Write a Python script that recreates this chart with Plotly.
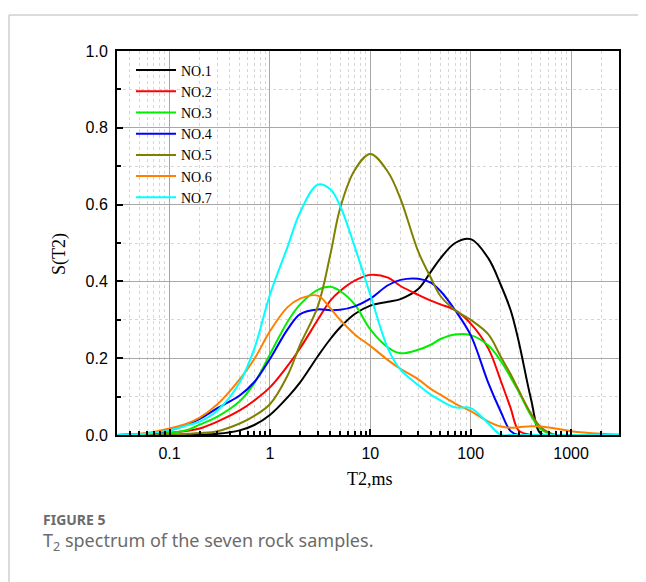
import plotly.graph_objects as go
import math

# T2 relaxation time grid (ms)
t2 = [0.03, 0.05, 0.07, 0.1, 0.15, 0.2, 0.3, 0.5, 0.7, 1, 1.5, 2, 3, 4, 5, 7, 10,
      15, 20, 30, 40, 50, 70, 100, 150, 200, 250, 300, 400, 500, 700, 1000, 2000, 3000]

no1 = [0, 0, 0, 0, 0, 0.001, 0.003, 0.012, 0.026, 0.052, 0.098, 0.137, 0.205, 0.25, 0.28, 0.315, 0.337,
       0.347, 0.354, 0.38, 0.425, 0.46, 0.5, 0.51, 0.46, 0.39, 0.325, 0.245, 0.092, 0.003, 0, 0, 0, 0]
no2 = [0, 0.001, 0.003, 0.006, 0.011, 0.017, 0.035, 0.064, 0.09, 0.124, 0.18, 0.226, 0.3, 0.35, 0.375, 0.402, 0.417,
       0.41, 0.388, 0.365, 0.35, 0.34, 0.325, 0.29, 0.225, 0.14, 0.07, 0.012, 0, 0, 0, 0, 0, 0]
no3 = [0, 0.001, 0.002, 0.005, 0.013, 0.027, 0.048, 0.088, 0.135, 0.21, 0.295, 0.34, 0.378, 0.386, 0.375, 0.34, 0.275,
       0.228, 0.213, 0.222, 0.235, 0.25, 0.262, 0.26, 0.233, 0.192, 0.15, 0.113, 0.05, 0.015, 0, 0, 0, 0]
no4 = [0, 0.002, 0.005, 0.012, 0.027, 0.042, 0.07, 0.103, 0.138, 0.198, 0.275, 0.315, 0.327, 0.325, 0.326, 0.335, 0.355,
       0.39, 0.404, 0.407, 0.397, 0.375, 0.325, 0.26, 0.135, 0.06, 0.01, 0, 0, 0, 0, 0, 0, 0]
no5 = [0, 0, 0, 0.001, 0.003, 0.005, 0.01, 0.03, 0.05, 0.08, 0.155, 0.235, 0.335, 0.47, 0.59, 0.69, 0.732,
       0.685, 0.615, 0.478, 0.41, 0.362, 0.325, 0.3, 0.262, 0.203, 0.158, 0.117, 0.055, 0.02, 0, 0, 0, 0]
no6 = [0, 0.003, 0.008, 0.017, 0.03, 0.045, 0.08, 0.145, 0.198, 0.27, 0.333, 0.355, 0.363, 0.33, 0.3, 0.262, 0.232,
       0.195, 0.172, 0.145, 0.12, 0.105, 0.082, 0.062, 0.035, 0.022, 0.019, 0.02, 0.023, 0.022, 0.017, 0.01, 0.003, 0.001]
no7 = [0, 0.002, 0.006, 0.012, 0.025, 0.035, 0.064, 0.137, 0.225, 0.365, 0.49, 0.58, 0.652, 0.64, 0.597, 0.49, 0.365,
       0.225, 0.17, 0.13, 0.105, 0.09, 0.072, 0.07, 0.03, 0, 0, 0, 0, 0, 0, 0, 0, 0]

names = ["NO.1", "NO.2", "NO.3", "NO.4", "NO.5", "NO.6", "NO.7"]
series = [no1, no2, no3, no4, no5, no6, no7]
colors = ["#000000", "#ff0000", "#00ee00", "#0000ff", "#808000", "#ff8000", "#00ffff"]

x_ticks = [0.1, 1, 10, 100, 1000]
x_tick_text = ["0.1", "1", "10", "100", "1000"]
y_ticks = [0, 0.2, 0.4, 0.6, 0.8, 1.0]
y_tick_text = ["0.0", "0.2", "0.4", "0.6", "0.8", "1.0"]

fig = go.Figure()
for name, ys, c in zip(names, series, colors):
    fig.add_trace(go.Scatter(x=t2, y=ys, name=name, mode="lines",
                             line=dict(color=c, width=2, shape="spline", smoothing=1.0)))

# page body has an 8px margin: build the figure 8px smaller and offset
OFF = 8
W, H = 646 - OFF, 582 - OFF
L, R, T, B = 117 - OFF, 27, 51 - OFF, 147
pw, ph = 502, 384

def px(xp):  # reference-screen x -> paper
    return (xp - 117) / pw

def py(yp):  # reference-screen y -> paper
    return (435 - yp) / ph

tickfont = dict(family="Liberation Sans, Arial", size=16, color="#000000")
serif = "Liberation Serif, Times New Roman"
minor_grid = dict(showgrid=True, gridcolor="#d6d6d6", griddash="3px,3px", gridwidth=1)

fig.update_layout(
    width=W, height=H,
    margin=dict(l=L, r=R, t=T, b=B),
    paper_bgcolor="white", plot_bgcolor="white",
    showlegend=True,
    legend=dict(x=px(131), y=py(54.5), xanchor="left", yanchor="top",
                bgcolor="rgba(0,0,0,0)", borderwidth=0,
                font=dict(family=serif, size=14, color="#000000"),
                itemwidth=40, tracegroupgap=0),
    xaxis=dict(type="log", range=[math.log10(0.03), math.log10(3000)],
               tickvals=x_ticks, ticktext=x_tick_text, tickfont=tickfont,
               ticks="inside", ticklen=6, tickwidth=1.5, tickcolor="#000000",
               showline=True, linecolor="#000000", linewidth=2, mirror=True,
               showgrid=True, gridcolor="#a8a8a8", gridwidth=1,
               ticklabelstandoff=3,
               minor=dict(dtick="D1", ticks="inside", ticklen=4, tickcolor="#000000", **minor_grid),
               zeroline=False),
    yaxis=dict(range=[0, 1.0], tickvals=y_ticks, ticktext=y_tick_text, tickfont=tickfont,
               ticks="inside", ticklen=6, tickwidth=1.5, tickcolor="#000000",
               showline=True, linecolor="#000000", linewidth=2, mirror=True,
               showgrid=True, gridcolor="#a8a8a8", gridwidth=1,
               ticklabelstandoff=4,
               minor=dict(dtick=0.1, ticks="inside", ticklen=4, tickcolor="#000000", **minor_grid),
               zeroline=False),
)

# card border
fig.add_shape(type="line", xref="paper", yref="paper", x0=px(9), x1=px(660), y0=py(15), y1=py(15),
              line=dict(color="#cfcfcf", width=1.5))
fig.add_shape(type="line", xref="paper", yref="paper", x0=px(9), x1=px(9), y0=py(15), y1=py(600),
              line=dict(color="#cfcfcf", width=1.5))

fig.add_annotation(text="S(T2)", xref="paper", yref="paper", x=px(60), y=py(254), textangle=-90,
                   xanchor="center", yanchor="middle",
                   showarrow=False, font=dict(family=serif, size=18, color="#000000"))
fig.add_annotation(text="T2,ms", xref="paper", yref="paper", x=px(370), y=py(479),
                   xanchor="center", yanchor="middle",
                   showarrow=False, font=dict(family=serif, size=18, color="#000000"))
fig.add_annotation(text="<b>FIGURE 5</b>", xref="paper", yref="paper", x=px(41), y=py(519),
                   xanchor="left", yanchor="middle", showarrow=False,
                   font=dict(family="Noto Sans, Open Sans", size=14, color="#6a6a6a"))
fig.add_annotation(text="T<sub>2</sub> spectrum of the seven rock samples.", xref="paper", yref="paper",
                   x=px(41), y=py(541), xanchor="left", yanchor="middle", showarrow=False,
                   font=dict(family="Noto Sans, Open Sans", size=18, color="#6b6b6b"))

fig.write_html("out.html")
